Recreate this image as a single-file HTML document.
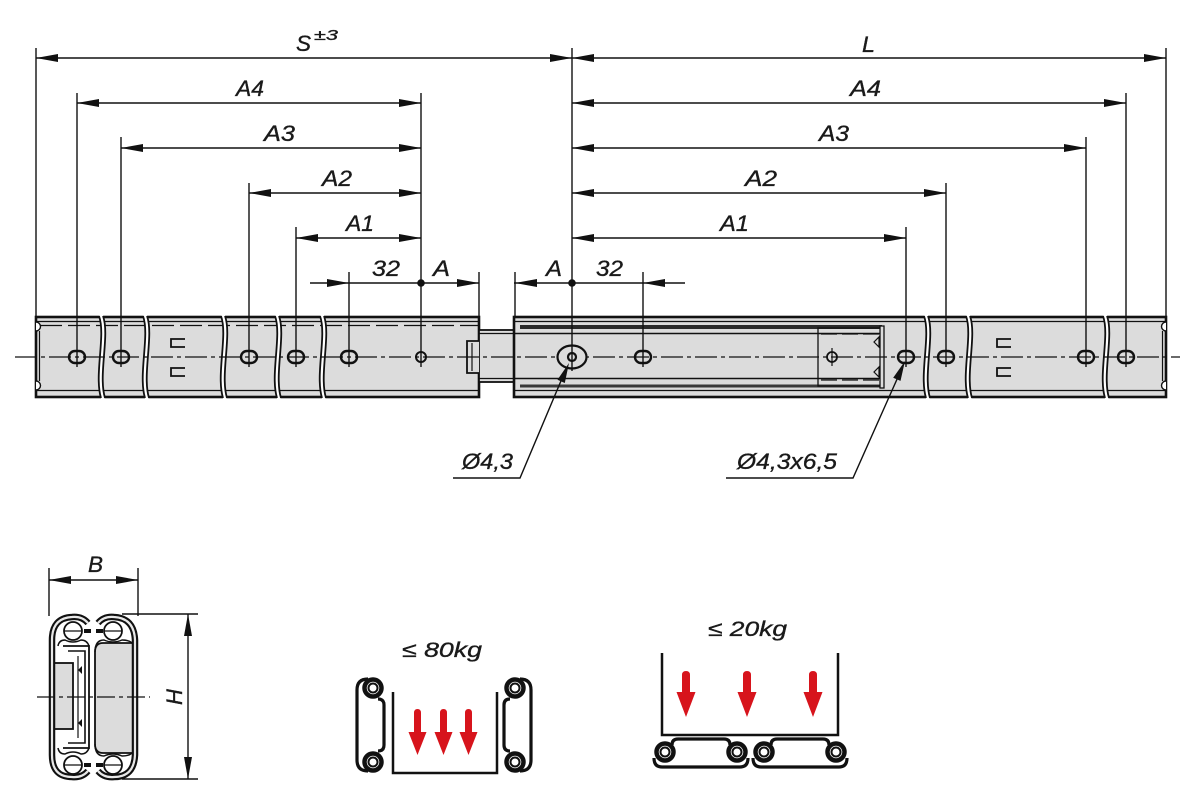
<!DOCTYPE html>
<html><head><meta charset="utf-8">
<style>
html,body{margin:0;padding:0;background:#fff;}
svg{display:block;}
text{font-family:"Liberation Sans",sans-serif;font-style:italic;font-size:22px;fill:#1a1a1a;stroke:#1a1a1a;stroke-width:0.35px;}
</style></head><body>
<svg width="1200" height="805" viewBox="0 0 1200 805" xmlns="http://www.w3.org/2000/svg">

<!-- ================= RAILS ================= -->
<g stroke="#111" fill="none">
  <!-- left outer rail -->
  <rect x="36" y="317" width="443" height="80" fill="#dcdcdc" stroke-width="2.6"/>
  <line x1="36" y1="321.5" x2="479" y2="321.5" stroke-width="1.3"/>
  <line x1="40" y1="325.5" x2="479" y2="325.5" stroke-width="1.3" stroke-dasharray="22 6"/>
  <line x1="36" y1="390.5" x2="479" y2="390.5" stroke-width="1.3"/>
  <!-- middle (inner) rail visible part -->
  <rect x="479" y="330" width="36" height="52" fill="#dcdcdc" stroke-width="1.8"/>
  <line x1="479" y1="333.5" x2="515" y2="333.5" stroke-width="1.2"/>
  <line x1="479" y1="378.5" x2="515" y2="378.5" stroke-width="1.2"/>
  <path d="M479,341 L467,341 L467,373 L479,373" fill="#dcdcdc" stroke-width="1.8"/>
  <line x1="472" y1="343" x2="472" y2="371" stroke-width="1.2"/>

  <!-- right outer rail -->
  <rect x="514" y="317" width="652" height="80" fill="#dcdcdc" stroke-width="2.6"/>
  <line x1="514" y1="321.5" x2="1166" y2="321.5" stroke-width="1.3"/>
  <line x1="514" y1="390.5" x2="1166" y2="390.5" stroke-width="1.3"/>
  <rect x="520" y="325" width="362" height="4" fill="#2a2a2a" stroke="none"/>
  <line x1="514" y1="333.5" x2="884" y2="333.5" stroke-width="1.5"/>
  <line x1="514" y1="378.5" x2="884" y2="378.5" stroke-width="1.5"/>
  <rect x="520" y="384.5" width="362" height="3" fill="#3a3a3a" stroke="none"/>
  <!-- cage box -->
  <rect x="818" y="328" width="63" height="58" stroke-width="1.3"/>
  <line x1="821" y1="334" x2="879" y2="334" stroke-width="1.3" stroke-dasharray="16 5"/>
  <line x1="821" y1="380" x2="879" y2="380" stroke-width="1.3" stroke-dasharray="16 5"/>
  <rect x="880" y="326" width="4" height="62" fill="#dcdcdc" stroke-width="1.3"/>
  <polygon points="879,337 879,347 874,342" fill="#dcdcdc" stroke-width="1.2"/>
  <polygon points="879,367 879,377 874,372" fill="#dcdcdc" stroke-width="1.2"/>
  <circle cx="832" cy="357" r="5" stroke-width="1.8"/>
  <line x1="832" y1="348" x2="832" y2="366" stroke-width="1.2"/>

  <!-- end notches -->
  <path d="M1166,322 A4,4 0 0 0 1166,331" fill="#fff" stroke-width="1.4"/>
  <path d="M1166,381 A4,4 0 0 0 1166,390" fill="#fff" stroke-width="1.4"/>
  <line x1="1162.5" y1="331" x2="1162.5" y2="381" stroke-width="1.2"/>
  <path d="M36,322 A4,4 0 0 1 36,331" fill="#fff" stroke-width="1.4"/>
  <path d="M36,381 A4,4 0 0 1 36,390" fill="#fff" stroke-width="1.4"/>
  <line x1="39.5" y1="331" x2="39.5" y2="381" stroke-width="1.2"/>

  <!-- stamped marks -->
  <path d="M185,339 L171,339 L171,347 L185,347" stroke-width="1.8"/>
  <path d="M185,368 L171,368 L171,376 L185,376" stroke-width="1.8"/>
  <path d="M1011,339 L997,339 L997,347 L1011,347" stroke-width="1.8"/>
  <path d="M1011,368 L997,368 L997,376 L1011,376" stroke-width="1.8"/>
</g>

<!-- break lines -->
<g stroke="#111" stroke-width="1.8" fill="none">
  <g id="brk">
    <path d="M99,315 C106,335 94,375 101,399 L105,399 C98,375 110,335 103,315 Z" fill="#fff" stroke="none"/>
    <path d="M99,316 C106,335 94,375 101,398"/>
    <path d="M103,316 C110,335 98,375 105,398"/>
  </g>
  <use href="#brk" x="44"/>
  <use href="#brk" x="122"/>
  <use href="#brk" x="176"/>
  <use href="#brk" x="221"/>
  <use href="#brk" x="825"/>
  <use href="#brk" x="867"/>
  <use href="#brk" x="1004"/>
</g>

<!-- holes -->
<g stroke="#111" stroke-width="2.4" fill="#dcdcdc">
  <rect x="69" y="351" width="16" height="12" rx="6"/>
  <rect x="113" y="351" width="16" height="12" rx="6"/>
  <rect x="241" y="351" width="16" height="12" rx="6"/>
  <rect x="288" y="351" width="16" height="12" rx="6"/>
  <rect x="341" y="351" width="16" height="12" rx="6"/>
  <rect x="635" y="351" width="16" height="12" rx="6"/>
  <rect x="898" y="351" width="16" height="12" rx="6"/>
  <rect x="938" y="351" width="16" height="12" rx="6"/>
  <rect x="1078" y="351" width="16" height="12" rx="6"/>
  <rect x="1118" y="351" width="16" height="12" rx="6"/>
  <circle cx="421" cy="357" r="5" stroke-width="2"/>
</g>

<!-- centre line -->
<line x1="15" y1="357" x2="1180" y2="357" stroke="#111" stroke-width="1.3" stroke-dasharray="22 4 4 4"/>

<g stroke="#111" fill="#dcdcdc">
  <ellipse cx="572" cy="357" rx="14.5" ry="11.5" stroke-width="2.2"/>
  <circle cx="572" cy="357" r="4" stroke-width="2.2"/>
</g>

<!-- extension lines -->
<g stroke="#111" stroke-width="1.4">
  <line x1="36" y1="48" x2="36" y2="317"/>
  <line x1="77" y1="93" x2="77" y2="367"/>
  <line x1="121" y1="137" x2="121" y2="367"/>
  <line x1="249" y1="183" x2="249" y2="367"/>
  <line x1="296" y1="227" x2="296" y2="367"/>
  <line x1="349" y1="272" x2="349" y2="367"/>
  <line x1="421" y1="93" x2="421" y2="367"/>
  <line x1="479" y1="272" x2="479" y2="317"/>
  <line x1="515" y1="272" x2="515" y2="317"/>
  <line x1="572" y1="48" x2="572" y2="371"/>
  <line x1="643" y1="272" x2="643" y2="367"/>
  <line x1="906" y1="227" x2="906" y2="367"/>
  <line x1="946" y1="183" x2="946" y2="367"/>
  <line x1="1086" y1="137" x2="1086" y2="367"/>
  <line x1="1126" y1="93" x2="1126" y2="367"/>
  <line x1="1166" y1="48" x2="1166" y2="317"/>
</g>

<!-- dimension lines -->
<g stroke="#111" stroke-width="1.4">
  <line x1="36" y1="58" x2="1166" y2="58"/>
  <line x1="77" y1="103" x2="421" y2="103"/>
  <line x1="121" y1="148" x2="421" y2="148"/>
  <line x1="249" y1="193" x2="421" y2="193"/>
  <line x1="296" y1="238" x2="421" y2="238"/>
  <line x1="572" y1="103" x2="1126" y2="103"/>
  <line x1="572" y1="148" x2="1086" y2="148"/>
  <line x1="572" y1="193" x2="946" y2="193"/>
  <line x1="572" y1="238" x2="906" y2="238"/>
  <line x1="310" y1="283" x2="479" y2="283"/>
  <line x1="514" y1="283" x2="685" y2="283"/>
</g>
<g fill="#111">
  <polygon points="36,58 58,54 58,62"/>
  <polygon points="572,58 550,54 550,62"/>
  <polygon points="572,58 594,54 594,62"/>
  <polygon points="1166,58 1144,54 1144,62"/>
  <polygon points="77,103 99,99 99,107"/>
  <polygon points="421,103 399,99 399,107"/>
  <polygon points="121,148 143,144 143,152"/>
  <polygon points="421,148 399,144 399,152"/>
  <polygon points="249,193 271,189 271,197"/>
  <polygon points="421,193 399,189 399,197"/>
  <polygon points="296,238 318,234 318,242"/>
  <polygon points="421,238 399,234 399,242"/>
  <polygon points="572,103 594,99 594,107"/>
  <polygon points="1126,103 1104,99 1104,107"/>
  <polygon points="572,148 594,144 594,152"/>
  <polygon points="1086,148 1064,144 1064,152"/>
  <polygon points="572,193 594,189 594,197"/>
  <polygon points="946,193 924,189 924,197"/>
  <polygon points="572,238 594,234 594,242"/>
  <polygon points="906,238 884,234 884,242"/>
  <polygon points="349,283 327,279 327,287"/>
  <polygon points="479,283 457,279 457,287"/>
  <polygon points="515,283 537,279 537,287"/>
  <polygon points="643,283 665,279 665,287"/>
  <circle cx="421" cy="283" r="3.8"/>
  <circle cx="572" cy="283" r="3.8"/>
</g>

<!-- leaders -->
<g stroke="#111" stroke-width="1.4" fill="none">
  <polyline points="453,478 520,478 566,369"/>
  <polyline points="726,478 853,478 902,368"/>
</g>
<g fill="#111">
  <polygon points="569,363 564.8,383 557.5,379.8"/>
  <polygon points="905,361 900.5,380.9 893.2,377.7"/>
</g>

<!-- labels -->
<text x="296" y="51" textLength="15" lengthAdjust="spacingAndGlyphs">S</text>
<text x="314" y="40" style="font-size:15px" textLength="24" lengthAdjust="spacingAndGlyphs">±3</text>
<text x="862" y="52" textLength="13" lengthAdjust="spacingAndGlyphs">L</text>
<text x="236" y="96" textLength="28" lengthAdjust="spacingAndGlyphs">A4</text>
<text x="264" y="141" textLength="31" lengthAdjust="spacingAndGlyphs">A3</text>
<text x="322" y="186" textLength="30" lengthAdjust="spacingAndGlyphs">A2</text>
<text x="346" y="231" textLength="28" lengthAdjust="spacingAndGlyphs">A1</text>
<text x="372" y="276" textLength="28" lengthAdjust="spacingAndGlyphs">32</text>
<text x="433" y="276" textLength="17" lengthAdjust="spacingAndGlyphs">A</text>
<text x="546" y="276" textLength="16" lengthAdjust="spacingAndGlyphs">A</text>
<text x="596" y="276" textLength="27" lengthAdjust="spacingAndGlyphs">32</text>
<text x="850" y="96" textLength="31" lengthAdjust="spacingAndGlyphs">A4</text>
<text x="819" y="141" textLength="30" lengthAdjust="spacingAndGlyphs">A3</text>
<text x="745" y="186" textLength="32" lengthAdjust="spacingAndGlyphs">A2</text>
<text x="720" y="231" textLength="29" lengthAdjust="spacingAndGlyphs">A1</text>
<text x="462" y="469" textLength="51" lengthAdjust="spacingAndGlyphs">Ø4,3</text>
<text x="737" y="469" textLength="100" lengthAdjust="spacingAndGlyphs">Ø4,3x6,5</text>

<!-- ================= CROSS SECTION ================= -->
<g stroke="#111" fill="none">
  <!-- right gray block -->
  <path d="M137,643 L103,643 Q95,643 95,652 L95,744 Q95,753 103,753 L137,753" fill="#dcdcdc" stroke-width="1.8"/>
  <!-- left gray block -->
  <rect x="50" y="663" width="23" height="66" fill="#dcdcdc" stroke-width="1.8"/>
  <!-- inner channel -->
  <path d="M63,646 L89,646 L89,748 L63,748" stroke-width="1.8"/>
  <path d="M68,651 L85,651 L85,743 L68,743" stroke-width="1.6"/>
  <line x1="78" y1="656" x2="78" y2="738" stroke-width="1.2"/>
  <polygon points="82,666 82,674 78,670" fill="#111" stroke="none"/>
  <polygon points="82,719 82,727 78,723" fill="#111" stroke="none"/>
  <!-- inner hooks -->
  <path d="M58,646 Q59,640 65,640 Q73,644 81,640 Q87,640 89,646" stroke-width="1.5"/>
  <path d="M58,748 Q59,754 65,754 Q73,750 81,754 Q87,754 89,748" stroke-width="1.5"/>
  <path d="M95,652 Q95,640 104,640 Q113,644 122,640 Q132,640 134,646" stroke-width="1.5"/>
  <path d="M95,744 Q95,756 104,756 Q113,752 122,756 Q132,756 134,750" stroke-width="1.5"/>
  <!-- outer shells (double line) -->
  <path d="M88,623 Q82,616 72,617 Q52,618 52,640 L52,755 Q52,777 72,777 Q82,778 88,771" stroke-width="6.5"/>
  <path d="M88,623 Q82,616 72,617 Q52,618 52,640 L52,755 Q52,777 72,777 Q82,778 88,771" stroke="#e8e8e8" stroke-width="2.2"/>
  <path d="M98,623 Q104,616 114,617 Q134,618 135,640 L135,755 Q134,777 114,777 Q104,778 98,771" stroke-width="6.5"/>
  <path d="M98,623 Q104,616 114,617 Q134,618 135,640 L135,755 Q134,777 114,777 Q104,778 98,771" stroke="#e8e8e8" stroke-width="2.2"/>
  <!-- balls -->
  <g stroke-width="1.8" fill="#fff">
    <circle cx="73" cy="631" r="9"/>
    <circle cx="113" cy="631" r="9"/>
    <circle cx="73" cy="765" r="9"/>
    <circle cx="113" cy="765" r="9"/>
  </g>
  <g stroke-width="1.3">
    <line x1="64" y1="631" x2="82" y2="631"/>
    <line x1="104" y1="631" x2="122" y2="631"/>
    <line x1="64" y1="765" x2="82" y2="765"/>
    <line x1="104" y1="765" x2="122" y2="765"/>
  </g>
  <g fill="#111" stroke="none">
    <rect x="84" y="629" width="7" height="4"/>
    <rect x="96" y="629" width="7" height="4"/>
    <rect x="84" y="763" width="7" height="4"/>
    <rect x="96" y="763" width="7" height="4"/>
  </g>
  <!-- centre line -->
  <line x1="37" y1="697" x2="150" y2="697" stroke-width="1.3" stroke-dasharray="18 4 4 4"/>
  <!-- B dimension -->
  <line x1="49" y1="568" x2="49" y2="616" stroke-width="1.4"/>
  <line x1="138" y1="568" x2="138" y2="616" stroke-width="1.4"/>
  <line x1="49" y1="580" x2="138" y2="580" stroke-width="1.4"/>
  <!-- H dimension -->
  <line x1="122" y1="614" x2="198" y2="614" stroke-width="1.4"/>
  <line x1="122" y1="779" x2="198" y2="779" stroke-width="1.4"/>
  <line x1="188" y1="614" x2="188" y2="779" stroke-width="1.4"/>
</g>
<g fill="#111">
  <polygon points="49,580 71,576 71,584"/>
  <polygon points="138,580 116,576 116,584"/>
  <polygon points="188,614 184,636 192,636"/>
  <polygon points="188,779 184,757 192,757"/>
</g>
<text x="88" y="572" textLength="15" lengthAdjust="spacingAndGlyphs">B</text>
<text transform="translate(182,697) rotate(-90)" text-anchor="middle">H</text>

<!-- ================= LOAD 80kg ================= -->
<text x="402" y="657" style="font-size:21px" textLength="80" lengthAdjust="spacingAndGlyphs">≤ 80kg</text>
<g id="prof80" stroke="#111" fill="none">
  <path d="M368,679 Q357,679 357,690 L357,760 Q357,771 368,771" stroke-width="3.2"/>
  <path d="M378,699 Q384,699 384,705 L384,745 Q384,751 378,751" stroke-width="3.2"/>
  <circle cx="373" cy="688" r="8.5" stroke-width="4.5" fill="#fff"/>
  <circle cx="373" cy="688" r="4.5" stroke-width="2" fill="#fff"/>
  <circle cx="373" cy="762" r="8.5" stroke-width="4.5" fill="#fff"/>
  <circle cx="373" cy="762" r="4.5" stroke-width="2" fill="#fff"/>
</g>
<use href="#prof80" transform="translate(888,0) scale(-1,1)"/>
<path d="M393,692 L393,773 L497,773 L497,692" stroke="#111" stroke-width="2.5" fill="none"/>
<g fill="#d7141c">
  <path d="M414,713 Q414,709 417.5,709 Q421,709 421,713 L421,732 L426.5,732 L417.5,755 L408.5,732 L414,732 Z"/>
  <path d="M440,713 Q440,709 443.5,709 Q447,709 447,713 L447,732 L452.5,732 L443.5,755 L434.5,732 L440,732 Z"/>
  <path d="M465,713 Q465,709 468.5,709 Q472,709 472,713 L472,732 L477.5,732 L468.5,755 L459.5,732 L465,732 Z"/>
</g>

<!-- ================= LOAD 20kg ================= -->
<text x="708" y="636" style="font-size:21px" textLength="79" lengthAdjust="spacingAndGlyphs">≤ 20kg</text>
<path d="M662,653 L662,735 L838,735 L838,653" stroke="#111" stroke-width="2.5" fill="none"/>
<g fill="#d7141c">
  <path d="M682,675 Q682,671 686,671 Q690,671 690,675 L690,692 L695.5,692 L686,717 L676.5,692 L682,692 Z"/>
  <path d="M743,675 Q743,671 747,671 Q751,671 751,675 L751,692 L756.5,692 L747,717 L737.5,692 L743,692 Z"/>
  <path d="M809,675 Q809,671 813,671 Q817,671 817,675 L817,692 L822.5,692 L813,717 L803.5,692 L809,692 Z"/>
</g>
<g id="prof20" stroke="#111" fill="none">
  <path d="M672,745 Q672,739 678,739 L724,739 Q730,739 730,745" stroke-width="3.2"/>
  <path d="M654,758 Q654,767 662,767 L740,767 Q748,767 748,758" stroke-width="3.2"/>
  <circle cx="665" cy="752" r="8.5" stroke-width="4.5" fill="#fff"/>
  <circle cx="665" cy="752" r="4.5" stroke-width="2" fill="#fff"/>
  <circle cx="737" cy="752" r="8.5" stroke-width="4.5" fill="#fff"/>
  <circle cx="737" cy="752" r="4.5" stroke-width="2" fill="#fff"/>
</g>
<use href="#prof20" transform="translate(99,0)"/>

</svg>
</body></html>
